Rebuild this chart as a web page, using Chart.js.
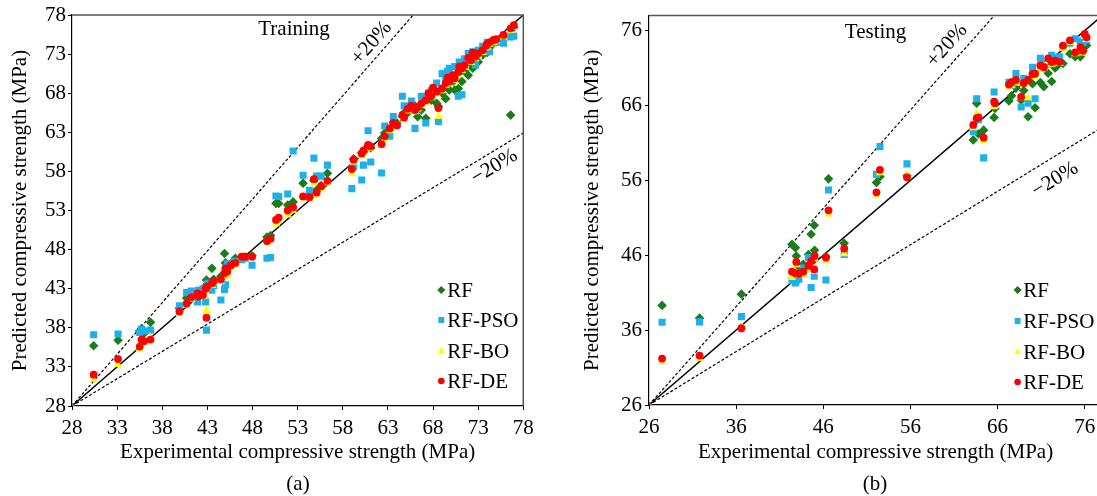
<!DOCTYPE html>
<html>
<head>
<meta charset="utf-8">
<script src="https://cdn.jsdelivr.net/npm/chart.js@4.4.0/dist/chart.umd.min.js"></script>
<style>
  html, body { margin: 0; padding: 0; background: #fff; overflow: hidden; }
  body { width: 1097px; height: 496px; position: relative; font-family: "Liberation Serif", "Times New Roman", serif; }
  .panel { position: absolute; top: 0; }
  #boxA { left: 0; }
  #boxB { left: 560px; }
  .cap { position: absolute; top: 470px; font-size: 21px; line-height: 26px; transform: translateX(-50%); color: #000; }
</style>
</head>
<body>
<div class="panel" id="boxA"><canvas id="chartA" width="548" height="496"></canvas></div>
<div class="panel" id="boxB"><canvas id="chartB" width="560" height="496"></canvas></div>
<div class="cap" style="left:298px">(a)</div>
<div class="cap" style="left:875px">(b)</div>

<script>
// ============================
// DATA - TRAINING
// ============================

const expTrain = [30.4, 33.1, 35.5, 35.7, 36.0, 36.7, 39.9, 40.7, 41.2, 41.9,
    42.0, 42.5, 42.9, 42.8, 43.0, 43.5, 43.7, 44.5, 44.9, 45.0,
    45.2, 45.6, 46.1, 46.8, 47.2, 47.95, 49.6, 50.0, 50.6, 50.9,
    51.9, 52.5, 53.6, 54.3, 54.8, 55.1, 55.6, 56.3, 59.0, 59.2,
    60.1, 60.3, 60.8, 61.1, 62.3, 62.65, 63.2, 63.6, 64.0, 64.6,
    64.8, 65.2, 65.6, 66.0, 66.3, 66.7, 67.2, 67.5, 67.8, 68.0,
    68.4, 68.6, 69.0, 69.4, 69.6, 69.8, 70.2, 70.4, 70.8, 70.9,
    71.2, 71.5, 71.9, 72.2, 72.4, 72.7, 73.0, 73.5, 73.9, 74.0,
    74.25, 74.7, 75.0, 75.8, 76.6, 76.95];

const rfTrain = [35.7, 36.4, 37.6, 37.9, 37.3, 38.7, 40.5, 41.8, 42.0, 42.6,
    42.4, 42.9, 44.1, 43.3, 43.6, 45.6, 44.2, 44.6, 47.5, 46.3,
    46.0, 46.2, 46.9, 47.0, 47.1, 47.2, 49.6, 49.8, 53.9, 53.9,
    53.7, 54.1, 56.5, 55.0, 56.8, 55.6, 56.2, 57.75, 58.5, 59.6,
    60.4, 60.5, 61.2, 61.0, 62.2, 62.9, 63.4, 64.3, 64.2, 65.0,
    65.5, 65.5, 66.0, 66.4, 65.0, 65.85, 64.8, 67.8, 67.1, 68.3,
    66.7, 66.3, 68.0, 67.3, 69.0, 68.4, 69.5, 68.4, 68.6, 70.6,
    69.5, 70.8, 70.3, 71.8, 71.2, 72.3, 72.0, 72.9, 73.5, 73.2,
    73.8, 74.4, 74.6, 75.2, 65.2, 76.4];

const psoTrain = [37.1, 37.2, 37.4, 37.8, 37.6, 37.7, 40.8, 42.5, 42.7, 41.3,
    42.8, 43.0, 37.7, 41.3, 43.7, 42.8, 43.4, 41.55, 42.9, 43.5,
    46.2, 45.9, 46.5, 46.7, 46.9, 46.0, 46.9, 47.0, 54.85, 54.8,
    55.1, 60.6, 57.5, 55.6, 59.7, 57.4, 57.4, 58.8, 55.8, 58.6,
    56.9, 58.8, 63.2, 59.2, 57.8, 63.8, 62.5, 65.0, 64.0, 67.6,
    66.4, 66.3, 67.0, 63.5, 66.0, 67.6, 64.2, 68.0, 68.3, 68.6,
    69.3, 64.4, 70.5, 69.8, 70.8, 71.2, 70.3, 71.4, 67.6, 72.0,
    67.8, 72.4, 73.1, 72.8, 73.3, 71.6, 73.5, 74.0, 73.3, 74.5,
    73.3, 74.6, 74.5, 74.4, 75.2, 75.3];

const boTrain = [31.4, 33.3, 35.3, 36.3, 36.0, 36.8, 39.8, 40.9, 41.6, 42.1,
    41.9, 42.0, 40.2, 42.6, 43.2, 43.4, 43.8, 43.9, 44.5, 45.2,
    44.8, 45.6, 46.0, 47.0, 47.2, 47.0, 48.9, 49.3, 51.3, 51.7,
    52.4, 53.0, 54.6, 54.5, 56.5, 55.0, 55.8, 56.5, 57.7, 59.2,
    60.0, 60.4, 61.0, 60.9, 61.3, 62.2, 63.2, 63.8, 63.6, 64.9,
    64.6, 65.7, 66.0, 65.6, 66.0, 66.4, 66.8, 67.6, 67.4, 68.3,
    67.9, 65.0, 68.3, 69.0, 69.6, 69.2, 70.0, 69.6, 70.4, 71.0,
    70.9, 71.3, 72.2, 71.9, 72.9, 72.4, 72.8, 73.2, 73.8, 73.9,
    74.2, 74.5, 74.7, 75.2, 76.0, 76.4];

const deTrain = [32.0, 34.0, 35.6, 36.5, 36.3, 36.5, 40.1, 41.1, 41.9, 42.4,
    42.0, 42.2, 39.3, 43.0, 43.3, 43.7, 44.0, 44.2, 45.0, 45.6,
    45.2, 46.0, 46.3, 47.1, 47.1, 47.1, 49.1, 49.4, 51.8, 52.1,
    53.0, 53.4, 54.8, 54.7, 57.0, 55.3, 56.1, 56.8, 58.3, 59.5,
    60.3, 60.7, 61.4, 61.2, 61.5, 62.5, 63.5, 64.2, 63.9, 65.2,
    64.9, 66.0, 66.4, 65.85, 66.2, 66.7, 67.1, 68.0, 67.6, 68.7,
    68.2, 66.1, 68.6, 69.3, 70.0, 69.5, 70.3, 69.9, 70.7, 71.4,
    71.2, 71.6, 72.5, 72.2, 73.2, 72.7, 73.1, 73.5, 74.1, 74.3,
    74.5, 74.8, 74.9, 75.45, 76.3, 76.7];

// ============================
// DATA - TESTING
// ============================

const expTest = [27.5, 31.8, 36.6, 42.4, 42.8, 42.9, 43.2, 43.7, 44.3, 44.6,
    44.96, 45.0, 46.3, 46.6, 48.4, 52.1, 52.5, 55.6, 63.2, 63.6,
    63.8, 64.4, 65.6, 65.7, 67.3, 67.6, 68.1, 68.7, 69.0, 69.5,
    70.0, 70.3, 70.9, 71.3, 71.8, 72.2, 72.6, 73.1, 73.5, 74.3,
    74.9, 75.5, 75.8, 76.0, 76.2];

const rfTest = [39.3, 37.6, 40.8, 47.45, 47.0, 45.9, 44.5, 44.8, 46.1, 48.8,
    50.0, 46.65, 45.8, 56.2, 47.6, 55.7, 56.5, 56.6, 61.4, 66.3,
    62.2, 62.7, 64.4, 65.6, 66.6, 67.3, 68.3, 66.7, 68.0, 64.5,
    68.9, 65.7, 69.05, 68.5, 70.3, 69.2, 71.0, 71.6, 71.6, 72.9,
    72.5, 72.5, 73.3, 74.2, 74.0];

const psoTest = [37.05, 37.1, 37.8, 42.6, 42.3, 42.6, 42.8, 44.3, 45.7, 41.7,
    43.2, 45.6, 42.7, 54.7, 46.1, 56.8, 60.5, 58.2, 62.5, 66.9,
    64.1, 59.0, 67.8, 66.0, 69.1, 68.6, 70.25, 65.8, 69.6, 66.3,
    71.1, 66.9, 72.3, 71.6, 71.5, 72.7, 72.4, 72.5, 73.8, 74.3,
    74.9, 74.6, 74.4, 75.0, 74.7];

const boTest = [31.8, 32.2, 36.6, 43.0, 43.4, 44.7, 43.3, 43.4, 44.2, 44.9,
    43.8, 45.5, 45.3, 51.5, 46.2, 54.0, 57.0, 56.8, 63.0, 64.9,
    64.6, 61.3, 65.8, 66.0, 68.4, 68.7, 69.0, 67.0, 68.8, 67.0,
    69.9, 69.9, 70.8, 71.0, 71.9, 71.5, 71.8, 71.6, 73.6, 74.4,
    72.9, 73.5, 73.0, 75.2, 74.8];

const deTest = [32.2, 32.6, 36.25, 43.8, 43.6, 45.1, 43.5, 43.8, 44.6, 45.2,
    44.1, 45.9, 45.7, 52.0, 46.9, 54.4, 57.4, 56.4, 63.4, 64.3,
    64.4, 61.7, 66.5, 66.3, 68.8, 69.1, 69.4, 67.15, 69.0, 69.4,
    70.2, 70.25, 71.35, 71.1, 72.3, 71.8, 72.0, 71.8, 74.0, 74.7,
    73.1, 73.8, 73.3, 75.55, 75.1];

// ============================
// REFERENCE LINES + AXES
// ============================

const ticksTrain = [28, 33, 38, 43, 48, 53, 58, 63, 68, 73, 78];
const ticksTest = [26, 36, 46, 56, 66, 76];

const oneX_Train = [28, 78], oneY_Train = [28, 78];
const upX_Train = [28, 65.8], upY_Train = [28, 78];
const lowX_Train = [28, 78], lowY_Train = [28, 62.9];

const oneX_Test = [26, 78], oneY_Test = [26, 78];
const upX_Test = [26, 65.6], upY_Test = [26, 78];
const lowX_Test = [26, 78], lowY_Test = [26, 63.1];

const seriesNames = ["RF", "RF-PSO", "RF-BO", "RF-DE"];

// ============================
// HELPERS
// ============================

const FONT = '"Liberation Serif", "Times New Roman", serif';
Chart.defaults.font.family = FONT;
Chart.defaults.color = "#000";

function pts(xs, ys) {
    return xs.map((x, i) => ({ x: x, y: ys[i] }));
}

const styles = {
    "RF": { shape: "rectRot", r: 4.8, color: "#1b7c1b" },
    "RF-PSO": { shape: "rect", r: 5, color: "#1fb0e9" },
    "RF-BO": { shape: "triangle", r: 4.8, color: "#ffff00" },
    "RF-DE": { shape: "circle", r: 3.9, color: "#ff0000" }
};

function scatterSet(name, xs, ys) {
    const s = styles[name];
    return {
        type: "scatter",
        label: name,
        data: pts(xs, ys),
        pointStyle: s.shape,
        pointRadius: s.r,
        backgroundColor: s.color,
        borderColor: s.color,
        borderWidth: 0
    };
}

function lineSet(name, xs, ys, dashed) {
    return {
        type: "line",
        label: name,
        data: pts(xs, ys),
        borderColor: "#000",
        borderWidth: dashed ? 1.2 : 1.4,
        borderDash: dashed ? [3, 2] : [],
        pointRadius: dashed ? 0 : [3, 0],
        pointBackgroundColor: "#a0522d",
        pointBorderWidth: 0,
        fill: false,
        showLine: true
    };
}

function drawMark(ctx, shape, x, y, r, color) {
    ctx.fillStyle = color;
    ctx.beginPath();
    if (shape === "rectRot") {
        ctx.moveTo(x, y - r); ctx.lineTo(x + r, y); ctx.lineTo(x, y + r); ctx.lineTo(x - r, y);
    } else if (shape === "rect") {
        ctx.rect(x - r * 0.7, y - r * 0.7, r * 1.4, r * 1.4);
    } else if (shape === "triangle") {
        ctx.moveTo(x, y - r); ctx.lineTo(x + r * 0.87, y + r * 0.5); ctx.lineTo(x - r * 0.87, y + r * 0.5);
    } else {
        ctx.arc(x, y, r, 0, Math.PI * 2);
    }
    ctx.closePath();
    ctx.fill();
}

// frame, labels and legend
const decorPlugin = {
    id: "decor",
    afterDraw(chart, args, opts) {
        const { ctx, chartArea: a, scales } = chart;
        const sx = scales.x, sy = scales.y;
        ctx.save();

        // top + right frame
        ctx.strokeStyle = "#555";
        ctx.lineWidth = 1.5;
        ctx.beginPath();
        ctx.moveTo(a.left, a.top);
        ctx.lineTo(a.right, a.top);
        ctx.lineTo(a.right, a.bottom);
        ctx.stroke();

        ctx.fillStyle = "#000";
        ctx.font = "21px " + FONT;
        ctx.textAlign = "center";
        ctx.textBaseline = "middle";

        // panel title
        ctx.fillText(opts.title, sx.getPixelForValue(opts.titleAt[0]), sy.getPixelForValue(opts.titleAt[1]));

        // rotated +20% / -20%
        const angle = (lx, ly) => Math.atan2(
            sy.getPixelForValue(ly[1]) - sy.getPixelForValue(ly[0]),
            sx.getPixelForValue(lx[1]) - sx.getPixelForValue(lx[0]));
        const rot = (text, at, ang) => {
            ctx.save();
            ctx.translate(sx.getPixelForValue(at[0]), sy.getPixelForValue(at[1]));
            ctx.rotate(ang);
            ctx.fillText(text, 0, 0);
            ctx.restore();
        };
        rot("+20%", opts.upAt, angle(opts.upLine[0], opts.upLine[1]));
        rot("\u221220%", opts.lowAt, angle(opts.lowLine[0], opts.lowLine[1]));

        // legend
        ctx.textAlign = "left";
        seriesNames.forEach((name, i) => {
            const s = styles[name];
            const y = a.bottom + opts.legendY[i];
            drawMark(ctx, s.shape, a.right + opts.legendMarkX, y, s.r * 0.85, s.color);
            ctx.fillStyle = "#000";
            ctx.fillText(name, a.right + opts.legendTextX, y + 1);
        });

        ctx.restore();
    }
};

function makeChart(canvasId, cfg) {
    const datasets = [
        scatterSet("RF-DE", cfg.xs, cfg.de),
        scatterSet("RF-BO", cfg.xs, cfg.bo),
        scatterSet("RF-PSO", cfg.xs, cfg.pso),
        scatterSet("RF", cfg.xs, cfg.rf),
        lineSet("1:1", cfg.one[0], cfg.one[1], false),
        lineSet("+20%", cfg.up[0], cfg.up[1], true),
        lineSet("-20%", cfg.low[0], cfg.low[1], true)
    ];

    const tickFont = { family: FONT, size: 21 };

    return new Chart(document.getElementById(canvasId), {
        type: "scatter",
        data: { datasets: datasets },
        options: {
            responsive: false,
            animation: false,
            layout: { padding: cfg.padding },
            plugins: {
                legend: { display: false },
                tooltip: { enabled: false },
                decor: {
                    title: cfg.title,
                    titleAt: cfg.titleAt,
                    upAt: cfg.upAt,
                    lowAt: cfg.lowAt,
                    upLine: cfg.up,
                    lowLine: cfg.low,
                    legendMarkX: cfg.legendMarkX,
                    legendTextX: cfg.legendTextX,
                    legendY: cfg.legendY
                }
            },
            scales: {
                x: {
                    type: "linear",
                    min: cfg.min,
                    max: cfg.max,
                    afterBuildTicks: s => { s.ticks = cfg.ticks.map(v => ({ value: v })); },
                    afterFit: s => { s.height = cfg.xAxisH; },
                    grid: { color: "rgba(0,0,0,0)", tickColor: "#000", tickLength: 4, drawOnChartArea: false },
                    border: { color: "#000", width: 1.2 },
                    ticks: { color: "#000", font: tickFont, padding: 6, maxRotation: 0, autoSkip: false },
                    title: {
                        display: true,
                        text: "Experimental compressive strength (MPa)",
                        color: "#000",
                        font: tickFont,
                        padding: { top: 0, bottom: 31 }
                    }
                },
                y: {
                    type: "linear",
                    min: cfg.min,
                    max: cfg.max,
                    afterBuildTicks: s => { s.ticks = cfg.ticks.map(v => ({ value: v })); },
                    afterFit: s => { s.width = cfg.yAxisW; },
                    grid: { color: "rgba(0,0,0,0)", tickColor: "#000", tickLength: 4, drawOnChartArea: false },
                    border: { color: "#000", width: 1.2 },
                    ticks: { color: "#000", font: tickFont, padding: cfg.yTickPad, autoSkip: false },
                    title: {
                        display: true,
                        text: "Predicted compressive strength (MPa)",
                        color: "#000",
                        font: tickFont,
                        padding: { top: cfg.yTitlePad, bottom: 0 }
                    }
                }
            }
        },
        plugins: [decorPlugin]
    });
}

// ============================
// TRAINING (a)
// ============================

makeChart("chartA", {
    xs: expTrain, rf: rfTrain, pso: psoTrain, bo: boTrain, de: deTrain,
    one: [oneX_Train, oneY_Train], up: [upX_Train, upY_Train], low: [lowX_Train, lowY_Train],
    min: 28, max: 78, ticks: ticksTrain,
    padding: { left: 0, right: 24.7, top: 15, bottom: 0 },
    xAxisH: 90, yAxisW: 72, yTickPad: 2, yTitlePad: 8,
    title: "Training", titleAt: [52.6, 76.1],
    upAt: [61.2, 74.4], lowAt: [74.8, 58.6],
    legendMarkX: -82, legendTextX: -76, legendY: [-116, -86, -55, -25]
});

// ============================
// TESTING (b)
// ============================

makeChart("chartB", {
    xs: expTest, rf: rfTest, pso: psoTest, bo: boTest, de: deTest,
    one: [oneX_Test, oneY_Test], up: [upX_Test, upY_Test], low: [lowX_Test, lowY_Test],
    min: 26, max: 78, ticks: ticksTest,
    padding: { left: 0, right: 17.8, top: 13.2, bottom: 0 },
    xAxisH: 91, yAxisW: 89, yTickPad: 3, yTitlePad: 20,
    title: "Testing", titleAt: [52.0, 75.8],
    upAt: [60.2, 74.0], lowAt: [72.6, 56.1],
    legendMarkX: -84.6, legendTextX: -79, legendY: [-115, -84, -53, -23]
});
</script>
</body>
</html>
